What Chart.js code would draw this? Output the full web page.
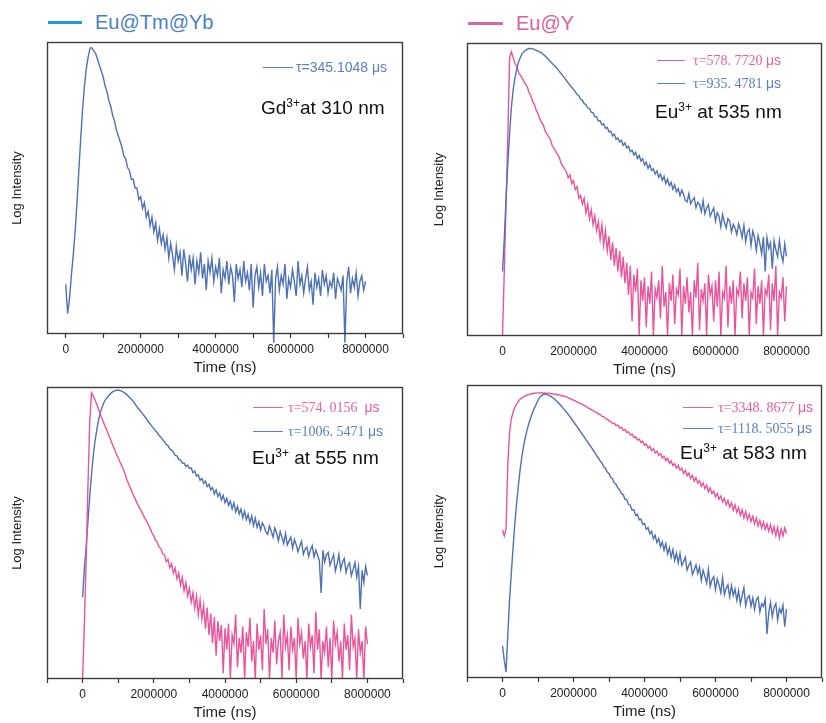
<!DOCTYPE html>
<html>
<head>
<meta charset="utf-8">
<script src="https://cdn.jsdelivr.net/npm/chart.js@4/dist/chart.umd.min.js"></script>
<style>
  html, body { margin: 0; padding: 0; background: #fff; overflow: hidden; }
  body { width: 826px; height: 723px; position: relative; font-family: "Liberation Sans", Arial, sans-serif; }
  canvas { position: absolute; }
  .abs { position: absolute; white-space: nowrap; }
  .bar { position: absolute; height: 3px; }
  .key { position: absolute; height: 1px; }
  .big { font-size: 20px; line-height: 24px; }
  .ann { font-size: 19px; line-height: 24px; color: #111; }
  .sup { font-size: 12px; position: relative; top: -7px; }
  .kt { font-size: 14px; line-height: 18px; }
  .serif { font-family: "Liberation Serif", "DejaVu Serif", serif; }
  .mu { font-family: "Liberation Sans", Arial, sans-serif; }
</style>
</head>
<body>
<canvas id="p1" width="407" height="346" style="left:0;top:38px"></canvas>
<canvas id="p2" width="406" height="347" style="left:420px;top:39px"></canvas>
<canvas id="p3" width="407" height="346" style="left:0;top:383px"></canvas>
<canvas id="p4" width="406" height="347" style="left:420px;top:381px"></canvas>

<!-- top legend -->
<div class="bar" style="left:48px;top:21px;width:34px;background:#1f9ad5"></div>
<div class="abs big" style="left:95px;top:10px;color:#4a7fc2">Eu@Tm@Yb</div>
<div class="bar" style="left:468px;top:22px;width:35px;background:#d26aa7"></div>
<div class="abs big" style="left:516px;top:11px;color:#d9629f">Eu@Y</div>

<!-- panel labels -->
<div class="abs ann" style="left:261px;top:96px">Gd<span class="sup">3+</span>at 310 nm</div>
<div class="abs ann" style="left:655px;top:100px">Eu<span class="sup">3+</span> at 535 nm</div>
<div class="abs ann" style="left:252px;top:446px">Eu<span class="sup">3+</span> at 555 nm</div>
<div class="abs ann" style="left:680px;top:441px">Eu<span class="sup">3+</span> at 583 nm</div>

<!-- lifetime keys -->
<div class="key" style="left:263px;top:67px;width:30px;background:#5b7fc0"></div>
<div class="abs kt" style="left:296px;top:58px;color:#5b7fc0">τ=345.1048 μs</div>

<div class="key" style="left:657px;top:60px;width:28px;background:#e8609c"></div>
<div class="abs kt serif" style="left:693px;top:51px;color:#e8609c">τ=578. 7720 <span class="mu">μs</span></div>
<div class="key" style="left:657px;top:83px;width:28px;background:#5b7fc0"></div>
<div class="abs kt serif" style="left:693px;top:74px;color:#5b7fc0">τ=935. 4781 <span class="mu">μs</span></div>

<div class="key" style="left:253px;top:407px;width:30px;background:#e8609c"></div>
<div class="abs kt serif" style="left:288px;top:398px;color:#e8609c">τ=574. 0156&nbsp; <span class="mu">μs</span></div>
<div class="key" style="left:253px;top:431px;width:30px;background:#5b7fc0"></div>
<div class="abs kt serif" style="left:288px;top:422px;color:#5b7fc0">τ=1006. 5471 <span class="mu">μs</span></div>

<div class="key" style="left:683px;top:407px;width:30px;background:#e8609c"></div>
<div class="abs kt serif" style="left:718px;top:398px;color:#e8609c">τ=3348. 8677 <span class="mu">μs</span></div>
<div class="key" style="left:683px;top:428px;width:30px;background:#5b7fc0"></div>
<div class="abs kt serif" style="left:718px;top:419px;color:#5b7fc0">τ=1118. 5055 <span class="mu">μs</span></div>

<script>
// decay curves, sampled every 50 µs (0 .. 8 000 000 ns), log intensity in % of panel height
const STEP_NS = 50000;
const timeNs = Array.from({ length: 161 }, (_, i) => i * STEP_NS);
const tickNs = [-1000000, 0, 1000000, 2000000, 3000000, 4000000, 5000000, 6000000, 7000000, 8000000, 9000000];
const xTicks = [0, 2000000, 4000000, 6000000, 8000000];

const BLUE = '#4f72b3';
const PINK = '#e9559b';

// Gd3+ at 310 nm, Eu@Tm@Yb
const gd310Blue = [
  17, 7, 12, 20, 27, 35, 45, 56, 67, 77,
  85, 91, 95, 98, 98, 97, 96, 94, 92, 90,
  88, 85, 83, 80, 78, 75, 73, 70, 68, 66,
  64, 61, 60, 57, 56, 53, 53, 50, 50, 46,
  47, 43, 45, 40, 42, 37, 40, 35, 38, 32,
  36, 31, 34, 29, 33, 26, 31, 27, 22, 30,
  25, 28, 20, 29, 24, 18, 27, 22, 26, 17,
  25, 21, 28, 19, 24, 15, 25, 21, 26, 18,
  23, 20, 26, 14, 22, 19, 25, 17, 23, 20,
  11, 24, 19, 22, 16, 25, 18, 21, 15, 24,
  9, 20, 23, 16, 21, 13, 24, 18, 20, 14,
  22, -3, 19, 23, 15, 20, 17, 24, 12, 19,
  16, 22, 18, 13, 25, 17, 20, 14, 19, 23,
  15, 18, 10, 21, 16, 19, 13, 22, 17, 20,
  14, 18, 16, 21, 12, 19, 17, 15, 20, -3,
  18, 23, 14, 19, 16, 21, 13, 18, 20, 15,
  18
];

// Eu3+ at 535 nm
const eu535Pink = [
  0, 22, 45, 68, 95, 97, 95, 93, 92, 90,
  89, 88, 87, 86, 85, 83, 82, 80, 79, 77,
  76, 74, 73, 72, 70, 69, 68, 67, 65, 64,
  63, 62, 61, 59, 58, 57, 56, 54, 55, 52,
  53, 50, 51, 47, 48, 45, 47, 42, 45, 40,
  43, 38, 41, 36, 39, 33, 38, 31, 36, 29,
  34, 26, 32, 24, 30, 22, 29, 20, 27, 18,
  25, 14, 24, 5, 21, 15, 23, 0, 19, 12,
  20, 3, 17, 11, 22, 0, 16, 13, 19, 6,
  24, 10, 15, 0, 18, 12, 21, 4, 16, 14,
  23, 0, 17, 11, 20, 8, 15, 0, 19, 13,
  25, 2, 16, 12, 18, 0, 21, 14, 17, 5,
  19, 10, 22, 0, 15, 13, 24, 3, 17, 11,
  19, 0, 16, 14, 22, 6, 18, 12, 20, 0,
  15, 13, 23, 4, 17, 11, 19, 0, 16, 14,
  21, 2, 18, 12, 24, 0, 15, 13, 20, 5,
  17
];
const eu535Blue = [
  22, 33, 47, 59, 69, 78, 84, 88, 91, 93.5,
  95, 96.4, 97, 97.5, 97.9, 98.1, 98.1, 98, 97.8, 97.5,
  97.2, 96.9, 96.6, 96.1, 95.6, 95, 94.3, 93.7, 93, 92.4,
  91.8, 91.1, 90.3, 89.6, 88.8, 88, 87.2, 86.4, 85.6, 84.9,
  84.1, 83.4, 82.4, 82, 80.8, 80.5, 79.3, 79, 77.8, 77.6,
  76.4, 76.2, 74.9, 74.8, 73.4, 73.5, 72.1, 72.4, 70.9, 71.2,
  69.7, 69.9, 68.3, 68.9, 67.1, 67.6, 66.2, 66.8, 65.1, 65.9,
  64.2, 64.8, 62.9, 63.4, 61.8, 62.7, 60.6, 61.6, 59.7, 60.5,
  58.4, 59.3, 57.2, 58.4, 56.5, 57.1, 55.3, 56.4, 54.2, 55.2,
  53.1, 54.5, 52.0, 53.6, 51.3, 52.4, 50.1, 51.6, 49.2, 50.3,
  47.9, 49.8, 48.4, 46.2, 45.8, 48.6, 45.1, 46.3, 47.2, 43.8,
  45.6, 44.9, 42.5, 46.2, 41.7, 43.6, 44.8, 40.9, 42.4, 43.7,
  39.2, 42.1, 40.8, 37.2, 41.5, 38.8, 36.9, 40.1, 39.2, 35.5,
  38.1, 36.9, 34.6, 38.3, 36.4, 33.6, 37.8, 32.2, 35.5, 36.4,
  30.9, 35.8, 33.7, 29.2, 34.3, 31.5, 28.1, 33.9, 22, 33.6,
  29.9, 31.8, 23, 32.5, 29.4, 27.1, 32.6, 27.9, 25.4, 31.4,
  27.2
];

// Eu3+ at 555 nm
const eu555Pink = [
  0, 19, 41, 66, 88, 98, 97, 95.5, 94, 92.3,
  90.7, 89, 87.5, 86, 84.7, 83, 81.5, 80, 78.5, 77,
  75.7, 74.3, 73, 71.5, 70, 68, 66.6, 65.2, 63.8, 62.4,
  61, 59.8, 58.6, 57.5, 56.3, 55, 54, 52.8, 51.5, 50,
  49, 47.5, 46.8, 45.2, 44.6, 42.8, 42.5, 40.2, 41, 38.1,
  39.5, 36.2, 38, 34.3, 36.4, 32.1, 34.8, 30.2, 33, 28.4,
  31.1, 26.3, 29.5, 24.2, 28.4, 22.1, 27.1, 20.5, 25.3, 17.2,
  24.5, 15.1, 22.4, 12.3, 21.2, 8, 19.8, 13, 18.5, 2,
  17.4, 10, 19, 0, 15, 12, 22, 4, 14, 9,
  18, 0, 16, 11, 21, 6, 13, 0, 19, 10,
  15, 3, 24, 12, 17, 0, 14, 9, 20, 5,
  13, 16, 0, 22, 11, 15, 3, 18, 10, 14,
  0, 21, 12, 16, 7, 13, 0, 19, 11, 15,
  2, 23, 10, 17, 0, 13, 9, 18, 4, 14,
  0, 20, 12, 16, 6, 13, 0, 19, 10, 15,
  3, 22, 11, 14, 0, 17, 9, 13, 0, 18,
  12
];
const eu555Blue = [
  28, 38, 45, 54, 62.5, 70, 76.5, 81.5, 85.4, 88.8,
  91.3, 93.2, 94.7, 95.8, 96.6, 97.3, 97.9, 98.4, 98.7, 98.9,
  98.9, 98.8, 98.6, 98.2, 97.8, 97.3, 96.7, 96.1, 95.4, 94.6,
  93.7, 92.9, 92.2, 91.4, 90.6, 89.8, 89, 88.1, 87.3, 86.5,
  85.8, 85, 84.3, 83.4, 82.8, 81.9, 81.3, 80.3, 79.9, 78.8,
  78.3, 77.7, 76.6, 76.4, 75.2, 75, 73.9, 74, 72.8, 73.2,
  72.1, 72.3, 70.6, 71.2, 69.5, 69.9, 68.1, 68.7, 67, 67.8,
  65.9, 66.7, 64.8, 65.6, 63.4, 64.8, 62.5, 63.7, 61.3, 62.9,
  60.4, 61.9, 59.5, 60.9, 58.2, 60.3, 57.2, 59.1, 56.5, 58.2,
  55.2, 57.5, 54.6, 56.4, 53.5, 55.8, 52.5, 55.1, 52, 53.9,
  51, 53.5, 52.2, 50.3, 49.6, 52.4, 50.5, 48.6, 51.8, 49.9,
  47.3, 50.4, 48.5, 46.4, 49.8, 45.9, 47.3, 48.6, 44.7, 47.8,
  46, 43.6, 45.5, 47.2, 42.7, 44.5, 45.2, 41.9, 44.2, 45.7,
  41.8, 44.1, 42.4, 40.5, 29.5, 44.1, 40, 42.5, 43.3, 39,
  40.8, 42.6, 37, 39.5, 42.6, 37.5, 40, 41.3, 36.5, 38.8,
  39.8, 35.4, 37.5, 39.9, 34.9, 38.5, 24, 37.2, 33.1, 38.6,
  35.5
];

// Eu3+ at 583 nm
const eu583Pink = [
  50.5, 48.5, 51, 73, 84, 88.5, 90.8, 92.5, 93.5, 94.5,
  95.2, 95.6, 96, 96.3, 96.6, 96.8, 97, 97.1, 97.2, 97.3,
  97.3, 97.2, 97.4, 97.2, 97.3, 97.1, 97.3, 97, 97.1, 96.8,
  96.9, 96.6, 96.7, 96.3, 96.4, 96, 96.1, 95.6, 95.4, 95.1,
  94.8, 94.6, 94.2, 94, 93.6, 93.5, 93, 92.8, 92.2, 92,
  91.5, 91.3, 90.8, 90.7, 90.1, 90, 89.3, 89.2, 88.5, 88.4,
  87.7, 87.6, 86.8, 87, 86.1, 86.3, 85.3, 85.6, 84.5, 84.8,
  83.8, 84, 82.9, 83.3, 82.1, 82.4, 81.2, 81.6, 80.3, 80.8,
  79.4, 79.9, 78.5, 79.1, 77.6, 78.3, 76.8, 77.4, 76, 76.6,
  75.1, 75.7, 74.2, 75, 73.3, 74.1, 72.5, 73.2, 71.6, 72.5,
  70.9, 71.6, 69.8, 70.9, 69, 70, 68.1, 69.2, 67.2, 68.4,
  66.5, 67.4, 65.4, 66.6, 64.6, 65.8, 63.5, 64.9, 62.9, 63.8,
  61.8, 63, 61, 62.1, 60.1, 61.3, 59.1, 60.6, 58.3, 59.8,
  57.2, 59.1, 56.5, 58.1, 55.5, 57.4, 54.6, 56.8, 54.1, 55.9,
  53.4, 55.2, 52.6, 54.6, 51.9, 53.8, 51.2, 53.2, 50.7, 52.6,
  50.1, 52.3, 49.5, 51.7, 48.6, 51.4, 47.8, 50.9, 48.5, 51.2,
  49.3
];
const eu583Blue = [
  11, 6, 2, 15, 27, 36, 45, 53, 60, 66,
  71.5, 76, 79.5, 82.5, 85, 87.2, 89, 90.8, 92.1, 93.4,
  94.8, 95.8, 96.4, 96.8, 96.9, 96.8, 96.5, 96.2, 95.8, 95.3,
  94.8, 94.2, 93.6, 92.9, 92.2, 91.5, 90.8, 90, 89.2, 88.4,
  87.5, 86.6, 85.8, 84.9, 84, 83.2, 82.3, 81.4, 80.6, 79.6,
  78.8, 77.8, 77, 75.9, 75.1, 74.1, 73.4, 72.1, 71.6, 70.3,
  69.8, 68.4, 68, 66.5, 66.1, 64.8, 64.3, 62.9, 62.6, 61,
  60.9, 59.2, 59, 57.3, 57.5, 55.6, 55.9, 54, 54.2, 52.4,
  52.8, 50.7, 51.3, 49.2, 50.1, 47.5, 48.7, 46.2, 47.6, 44.8,
  46.5, 43.6, 45.8, 42.3, 44.5, 41.2, 43.8, 40.1, 42.6, 39.3,
  42.5, 38.4, 39.7, 41.2, 36.8, 38.5, 39.6, 35.3, 36.9, 38.6,
  35.7, 37.9, 33.3, 36.8, 34.7, 32.4, 37.1, 31.2, 33.5, 34.6,
  30.2, 33.8, 31.8, 29.1, 34.2, 28.4, 30.6, 31.8, 27.7, 31.5,
  28.2, 30.3, 26.5, 29.8, 25.2, 28.1, 30.8, 24.6, 27.4, 28.1,
  24.5, 27.3, 23.4, 26.8, 27.6, 22.5, 25.3, 24.4, 26.9, 15,
  22.2, 25.8, 20.9, 24.1, 25.4, 19.8, 23.7, 22.2, 24.8, 17.5,
  23.6
];

Chart.defaults.font.family = '"Liberation Sans", Arial, sans-serif';
Chart.defaults.color = '#222';

// box around the plot area
const framePlugin = {
  id: 'frame',
  afterDatasetsDraw(chart) {
    const { ctx, chartArea: a } = chart;
    ctx.save();
    ctx.strokeStyle = '#3c3c3c';
    ctx.lineWidth = 1.4;
    ctx.strokeRect(a.left + 0.5, a.top + 0.5, a.right - a.left - 1, a.bottom - a.top - 1);
    ctx.restore();
  }
};

function makePanel(id, opts) {
  const datasets = opts.series.map(s => ({
    data: timeNs.map((t, i) => ({ x: t, y: s.values[i] })),
    borderColor: s.color,
    borderWidth: 1.4,
    pointRadius: 0,
    tension: 0,
    clip: false,
    order: s.order
  }));
  return new Chart(document.getElementById(id), {
    type: 'line',
    data: { datasets },
    plugins: [framePlugin],
    options: {
      responsive: false,
      animation: false,
      layout: { padding: { top: 4, right: 1, left: 0, bottom: 0 } },
      plugins: { legend: { display: false }, tooltip: { enabled: false } },
      scales: {
        x: {
          type: 'linear',
          min: opts.xMin,
          max: 9000000,
          afterFit: s => { s.height = 50; },
          afterBuildTicks: s => {
            s.ticks = tickNs.filter(v => v >= opts.xMin).map(v => ({ value: v }));
          },
          border: { display: false },
          grid: {
            drawOnChartArea: false,
            drawTicks: true,
            tickLength: 4,
            tickWidth: 1.2,
            tickColor: opts.ticks ? '#333' : 'rgba(0,0,0,0)'
          },
          ticks: {
            autoSkip: false,
            maxRotation: 0,
            padding: 4,
            font: { size: 12 },
            callback: v => xTicks.includes(v) ? String(v) : ''
          },
          title: {
            display: true,
            text: 'Time (ns)',
            font: { size: 15 },
            padding: { top: 0, bottom: 7 }
          }
        },
        y: {
          min: 0,
          max: 100,
          afterFit: s => { s.width = 47; },
          border: { display: false },
          grid: { display: false },
          ticks: { display: false },
          title: {
            display: true,
            text: 'Log Intensity',
            font: { size: 13 },
            padding: { top: opts.yTitlePad, bottom: 0 }
          }
        }
      }
    }
  });
}

makePanel('p1', {
  xMin: -500000, ticks: true, yTitlePad: 10,
  series: [{ values: gd310Blue, color: BLUE, order: 1 }]
});
makePanel('p2', {
  xMin: -1000000, ticks: false, yTitlePad: 12,
  series: [{ values: eu535Pink, color: PINK, order: 1 }, { values: eu535Blue, color: BLUE, order: 0 }]
});
makePanel('p3', {
  xMin: -1000000, ticks: true, yTitlePad: 10,
  series: [{ values: eu555Pink, color: PINK, order: 0 }, { values: eu555Blue, color: BLUE, order: 1 }]
});
makePanel('p4', {
  xMin: -1000000, ticks: true, yTitlePad: 12,
  series: [{ values: eu583Pink, color: PINK, order: 0 }, { values: eu583Blue, color: BLUE, order: 1 }]
});
</script>
</body>
</html>
